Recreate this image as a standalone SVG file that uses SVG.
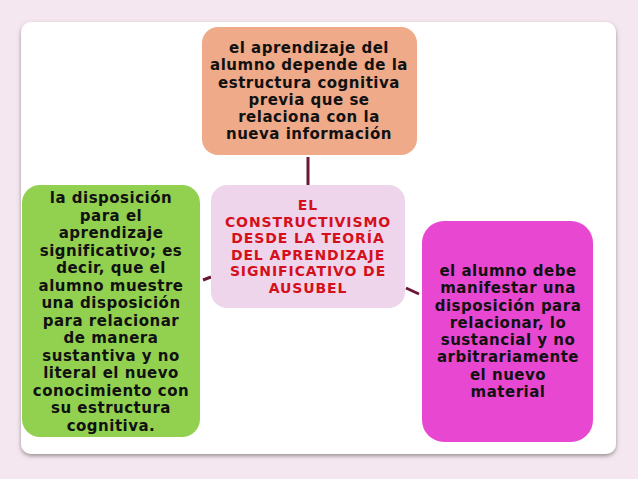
<svg xmlns="http://www.w3.org/2000/svg" width="638" height="479" viewBox="0 0 638 479">
<style>
.t{font-family:"DejaVu Sans",Verdana,sans-serif;font-weight:bold;font-size:15px;letter-spacing:0.5px;fill:#111;text-anchor:middle}
.r{fill:#d4101c;font-size:14px;letter-spacing:0.9px}
.c{stroke:#6b1838;stroke-width:3;fill:none}
</style>
<defs>
<filter id="sh" x="-5%" y="-5%" width="110%" height="115%">
<feDropShadow dx="0" dy="2" stdDeviation="2" flood-color="#555" flood-opacity="0.6"/>
</filter>
</defs>
<rect width="638" height="479" fill="#f5e7ef"/>
<rect x="21" y="22" width="595" height="432" rx="10" fill="#fff" filter="url(#sh)"/>
<g id="connectors">
<line class="c" x1="308" y1="157" x2="308" y2="185"/>
<line class="c" x1="203" y1="280" x2="211" y2="277"/>
<line class="c" x1="406" y1="288" x2="419" y2="294"/>
</g>
<g id="top">
<rect x="202" y="27" width="215" height="128" rx="16" fill="#eeaa89"/>
<text class="t"><tspan x="309" y="53">el aprendizaje del</tspan><tspan x="309" y="70">alumno depende de la</tspan><tspan x="309" y="88">estructura cognitiva</tspan><tspan x="309" y="105">previa que se</tspan><tspan x="309" y="122">relaciona con la</tspan><tspan x="309" y="139">nueva información</tspan></text>
</g>
<g id="center">
<rect x="211" y="185" width="194" height="123" rx="16" fill="#efd5eb"/>
<text class="t r"><tspan x="308" y="210">EL</tspan><tspan x="308" y="226.6">CONSTRUCTIVISMO</tspan><tspan x="308" y="243.2">DESDE LA TEORÍA</tspan><tspan x="308" y="259.8">DEL APRENDIZAJE</tspan><tspan x="308" y="276.4">SIGNIFICATIVO DE</tspan><tspan x="308" y="293">AUSUBEL</tspan></text>
</g>
<g id="left">
<rect x="22" y="185" width="178" height="252" rx="18" fill="#92d050"/>
<text class="t"><tspan x="111" y="203">la disposición</tspan><tspan x="111" y="220.5">para el</tspan><tspan x="111" y="238">aprendizaje</tspan><tspan x="111" y="255.5">significativo; es</tspan><tspan x="111" y="273">decir, que el</tspan><tspan x="111" y="290.5">alumno muestre</tspan><tspan x="111" y="308">una disposición</tspan><tspan x="111" y="325.5">para relacionar</tspan><tspan x="111" y="343">de manera</tspan><tspan x="111" y="360.5">sustantiva y no</tspan><tspan x="111" y="378">literal el nuevo</tspan><tspan x="111" y="395.5">conocimiento con</tspan><tspan x="111" y="413">su estructura</tspan><tspan x="111" y="430.5">cognitiva.</tspan></text>
</g>
<g id="right">
<rect x="422" y="221" width="171" height="221" rx="22" fill="#e847d2"/>
<text class="t"><tspan x="508" y="276">el alumno debe</tspan><tspan x="508" y="293">manifestar una</tspan><tspan x="508" y="311">disposición para</tspan><tspan x="508" y="328">relacionar, lo</tspan><tspan x="508" y="345">sustancial y no</tspan><tspan x="508" y="362">arbitrariamente</tspan><tspan x="508" y="380">el nuevo</tspan><tspan x="508" y="397">material</tspan></text>
</g>
</svg>
